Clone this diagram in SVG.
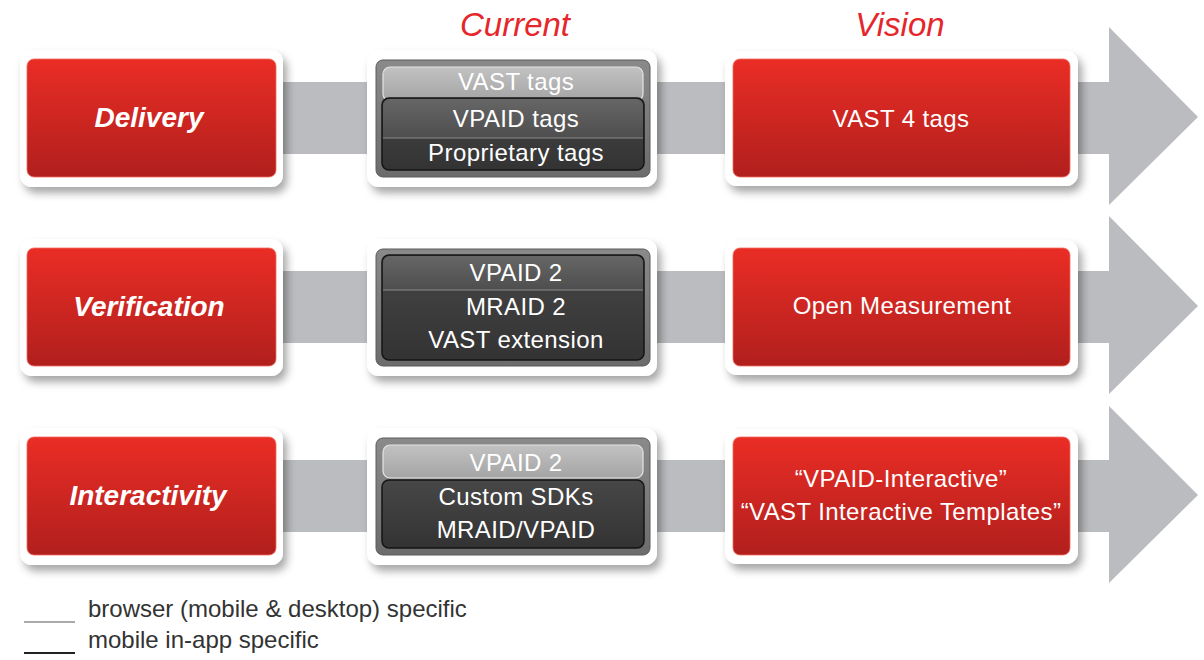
<svg xmlns="http://www.w3.org/2000/svg" width="1204" height="660" viewBox="0 0 1204 660">
<defs>
<linearGradient id="red" x1="0" y1="0" x2="0" y2="1"><stop offset="0" stop-color="#ea2d25"/><stop offset="1" stop-color="#b11f1d"/></linearGradient>
<linearGradient id="frame" x1="0" y1="0" x2="0" y2="1"><stop offset="0" stop-color="#8a8a8a"/><stop offset="1" stop-color="#6c6c6c"/></linearGradient>
<linearGradient id="light" x1="0" y1="0" x2="0" y2="1"><stop offset="0" stop-color="#c2c2c2"/><stop offset="1" stop-color="#a4a4a4"/></linearGradient>
<linearGradient id="mid" x1="0" y1="0" x2="0" y2="1"><stop offset="0" stop-color="#666"/><stop offset="1" stop-color="#4e4e4e"/></linearGradient>
<linearGradient id="dark" x1="0" y1="0" x2="0" y2="1"><stop offset="0" stop-color="#474747"/><stop offset="1" stop-color="#333"/></linearGradient>
<filter id="sh" x="-10%" y="-10%" width="125%" height="135%"><feDropShadow dx="4" dy="6" stdDeviation="4" flood-color="#000" flood-opacity="0.35"/></filter>
</defs>
<style>
.wf{fill:#fff;filter:url(#sh)}
.rd{fill:url(#red);stroke:#f06a5e;stroke-width:0.8}
.fr{fill:url(#frame);stroke:#5a5a5a;stroke-width:1}
.lt{fill:url(#light);stroke:#e4e4e4;stroke-width:1.2}
.dk{fill:url(#dark);stroke:#151515;stroke-width:1.5}
.md{fill:url(#mid)}
.sep{stroke:#8a8a8a;stroke-width:1}
.band{fill:#bbbcbf}
.t{font-family:"Liberation Sans",Arial,sans-serif;fill:#fff;font-size:24px;letter-spacing:0.4px;text-anchor:middle}
.lab{font-family:"Liberation Sans",Arial,sans-serif;fill:#fff;font-size:28px;font-weight:bold;font-style:italic;text-anchor:middle}
.ttl{font-family:"Liberation Sans",Arial,sans-serif;fill:#e5262b;font-size:33px;font-style:italic;text-anchor:middle}
.leg{font-family:"Liberation Sans",Arial,sans-serif;fill:#333;font-size:24px}
</style>
<rect width="1204" height="660" fill="#fff"/>

<g id="titles">
<text class="ttl" x="515" y="36">Current</text>
<text class="ttl" x="900" y="36">Vision</text>
</g>

<g id="connectors">
<polygon class="band" points="270,82 1109,82 1109,27 1198,117 1109,205 1109,154 270,154"/>
<polygon class="band" points="270,271 1109,271 1109,216 1198,306 1109,394 1109,343 270,343"/>
<polygon class="band" points="270,460 1109,460 1109,406 1198,495 1109,583 1109,532 270,532"/>
</g>

<!-- Row 1 -->
<g id="delivery">
<rect class="wf" x="20" y="50" width="263" height="137" rx="12"/>
<rect class="rd" x="27" y="59" width="249" height="118" rx="7"/>
<text class="lab" x="149" y="127">Delivery</text>
</g>
<g id="delivery-current">
<rect class="wf" x="367" y="50" width="290" height="137" rx="12"/>
<rect class="fr" x="376" y="60" width="274" height="117" rx="7"/>
<rect class="lt" x="383" y="67" width="260" height="34" rx="7"/>
<rect class="dk" x="382" y="98" width="262" height="72" rx="7"/>
<path class="md" d="M390,99 H636 A7,7 0 0 1 643,106 V138 H383 V106 A7,7 0 0 1 390,99 Z"/>
<line class="sep" x1="383" y1="138" x2="643" y2="138"/>
<text class="t" x="516" y="90">VAST tags</text>
<text class="t" x="516" y="127">VPAID tags</text>
<text class="t" x="516" y="161">Proprietary tags</text>
</g>
<g id="delivery-vision">
<rect class="wf" x="725" y="51" width="353" height="135" rx="12"/>
<rect class="rd" x="733" y="59" width="337" height="118" rx="7"/>
<text class="t" x="901" y="127">VAST 4 tags</text>
</g>

<!-- Row 2 -->
<g id="verification">
<rect class="wf" x="20" y="239" width="263" height="137" rx="12"/>
<rect class="rd" x="27" y="248" width="249" height="118" rx="7"/>
<text class="lab" x="149" y="316">Verification</text>
</g>
<g id="verification-current">
<rect class="wf" x="367" y="239" width="290" height="137" rx="12"/>
<rect class="fr" x="376" y="249" width="274" height="117" rx="7"/>
<rect class="dk" x="382" y="255" width="262" height="105" rx="7"/>
<path class="md" d="M390,256 H636 A7,7 0 0 1 643,263 V290 H383 V263 A7,7 0 0 1 390,256 Z"/>
<line class="sep" x1="383" y1="290" x2="643" y2="290"/>
<text class="t" x="516" y="281">VPAID 2</text>
<text class="t" x="516" y="315">MRAID 2</text>
<text class="t" x="516" y="348">VAST extension</text>
</g>
<g id="verification-vision">
<rect class="wf" x="725" y="240" width="353" height="135" rx="12"/>
<rect class="rd" x="733" y="248" width="337" height="118" rx="7"/>
<text class="t" x="902" y="314">Open Measurement</text>
</g>

<!-- Row 3 -->
<g id="interactivity">
<rect class="wf" x="20" y="428" width="263" height="137" rx="12"/>
<rect class="rd" x="27" y="437" width="249" height="118" rx="7"/>
<text class="lab" x="148" y="505">Interactivity</text>
</g>
<g id="interactivity-current">
<rect class="wf" x="367" y="428" width="290" height="137" rx="12"/>
<rect class="fr" x="376" y="438" width="274" height="117" rx="7"/>
<rect class="lt" x="383" y="445" width="260" height="33" rx="7"/>
<rect class="dk" x="382" y="480" width="262" height="68" rx="7"/>
<text class="t" x="516" y="471">VPAID 2</text>
<text class="t" x="516" y="505">Custom SDKs</text>
<text class="t" x="516" y="538">MRAID/VPAID</text>
</g>
<g id="interactivity-vision">
<rect class="wf" x="725" y="429" width="353" height="135" rx="12"/>
<rect class="rd" x="733" y="437" width="337" height="118" rx="7"/>
<text class="t" x="901" y="487">“VPAID-Interactive”</text>
<text class="t" x="901" y="520">“VAST Interactive Templates”</text>
</g>

<g id="legend">
<line x1="24" y1="622" x2="75" y2="622" stroke="#aaa" stroke-width="2"/>
<line x1="24" y1="653" x2="75" y2="653" stroke="#222" stroke-width="2"/>
<text class="leg" x="88" y="617">browser (mobile &amp; desktop) specific</text>
<text class="leg" x="88" y="648">mobile in-app specific</text>
</g>
</svg>
